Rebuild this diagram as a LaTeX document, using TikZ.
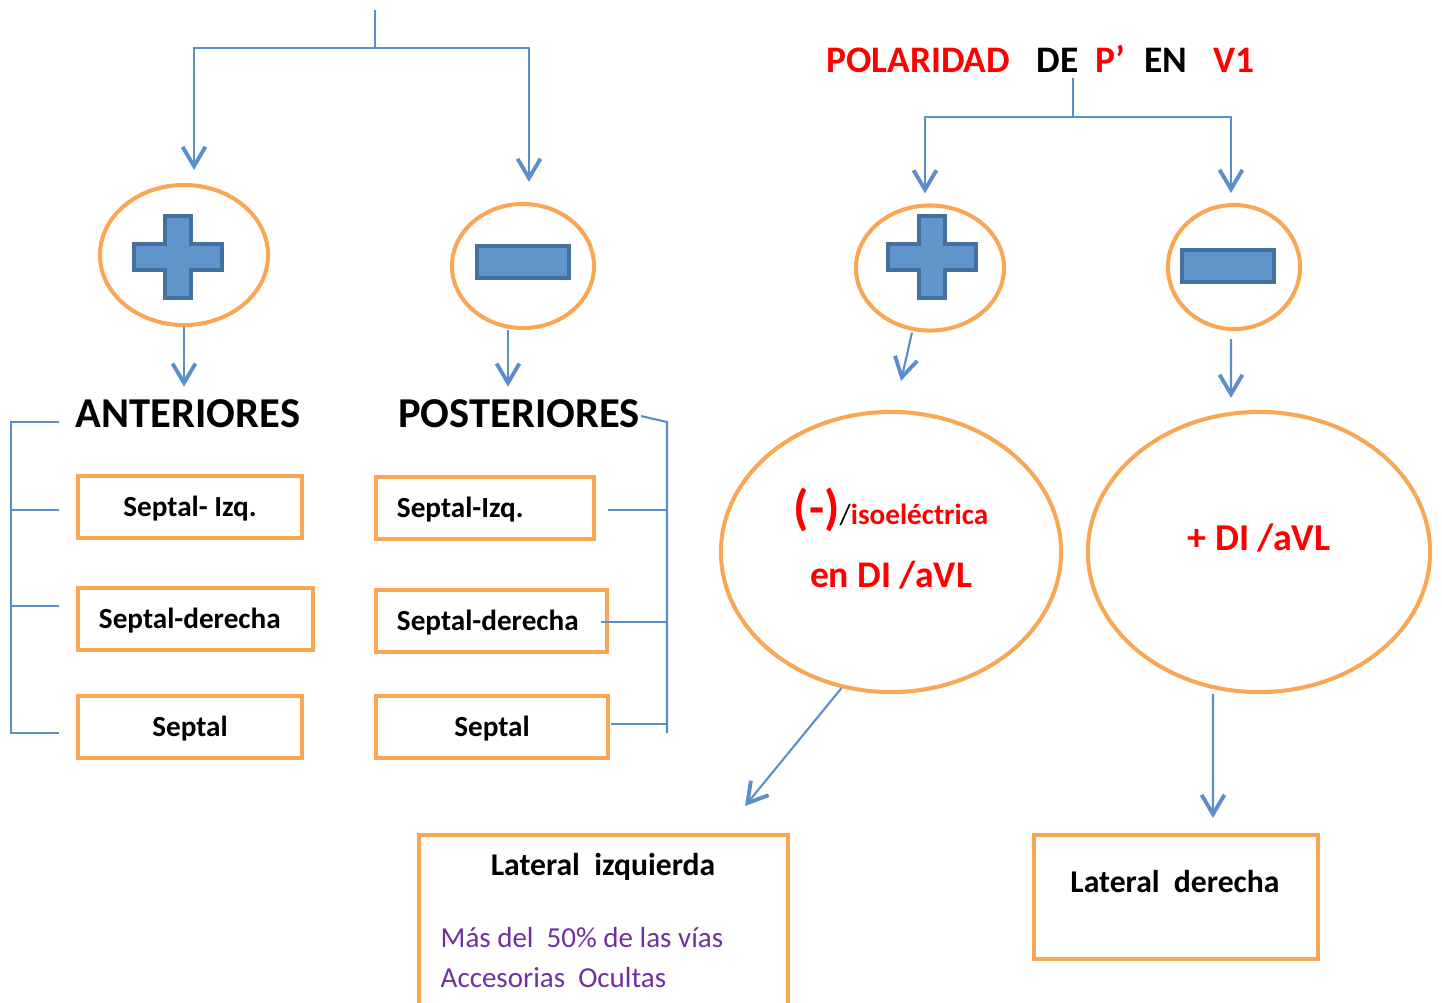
\documentclass[tikz,border=0pt]{standalone}
\usepackage{fontspec}
\setmainfont{Carlito}
\usetikzlibrary{shapes.geometric,arrows.meta,positioning}

\definecolor{arancio}{HTML}{F9A655}
\definecolor{blu}{HTML}{5B8FCB}
\definecolor{bluscuro}{HTML}{43709D}
\definecolor{blupieno}{HTML}{5F95CA}
\definecolor{viola}{HTML}{7030A0}
\definecolor{rosso}{HTML}{FF0000}

\tikzset{
  ovale/.style={ellipse, draw=arancio, line width=1.15pt, inner sep=0pt},
  casella/.style={rectangle, draw=arancio, line width=1.15pt, minimum height=0.62cm, inner sep=0pt, text height=0.19cm, text depth=0pt, font=\bfseries\fontsize{8.3}{10}\selectfont},
  ramo/.style={draw=blu, line width=0.6pt},
  freccia/.style={ramo, -{Straight Barb[length=5.5pt,width=6.5pt,line width=1.1pt]}},
  simbolo/.style={fill=blupieno, draw=bluscuro, line width=1.4pt},
  gruppo/.style={font=\bfseries\fontsize{12.1}{14}\selectfont},
  piu/.pic={\draw[simbolo] (-13,-41) -- (13,-41) -- (13,-13) -- (44,-13) -- (44,13) -- (13,13) -- (13,41) -- (-13,41) -- (-13,13) -- (-44,13) -- (-44,-13) -- (-13,-13) -- cycle;},
  meno/.pic={\draw[simbolo] (-46,-16) rectangle (46,16);},
}

\begin{document}
\begin{tikzpicture}[x=0.01cm, y=-0.01cm]
\clip (0,0) rectangle (1442,1002); % cornice

% Ovali con i segni (sinistra)
\node[ovale, minimum width=1.68cm, minimum height=1.40cm] (ovpiu) at (184,255) {};
\pic at (178,257) {piu};
\node[ovale, minimum width=1.42cm, minimum height=1.24cm] (ovmeno) at (523,266) {};
\pic at (523,262) {meno};

% Albero in alto
\coordinate (cima) at (375,10);
\coordinate (snodo) at (375,48);
\draw[ramo] (cima) -- (snodo);
\draw[freccia, shorten >=0.13cm] (snodo) -| ([xshift=0.1cm]ovpiu.north);
\draw[freccia, shorten >=0.2cm] (snodo) -| ([xshift=0.06cm]ovmeno.north);

% Gruppi
\node[gruppo, anchor=base] (anteriori) at (188,427) {ANTERIORES};
\node[gruppo, anchor=base] (posteriori) at (519,427) {POSTERIORES};
\draw[freccia] (ovpiu.south) -- (ovpiu.south |- anteriori.north);
\draw[freccia] ([xshift=-0.15cm]ovmeno.south) -- ([xshift=-0.15cm]ovmeno.south |- posteriori.north);

% Caselle
\node[casella, minimum width=2.24cm] (antsx) at (190,507) {Septal- Izq.};
\node[casella, text width=1.93cm, inner xsep=0.21cm, align=left] (antdx) at (195.5,619) {Septal-derecha};
\node[casella, minimum width=2.24cm] (antsep) at (190,727) {Septal};
\node[casella, text width=1.76cm, inner xsep=0.21cm, align=left] (postsx) at (485,508) {Septal-Izq.};
\node[casella, text width=1.89cm, inner xsep=0.21cm, align=left] (postdx) at (491.5,621) {Septal-derecha};
\node[casella, minimum width=2.32cm] (postsep) at (492,727) {Septal};

% Parentesi a sinistra
\draw[ramo] (59,422) -- (11,422) -- (11,733) -- (59,733);
\draw[ramo] (11,510) -- (59,510);
\draw[ramo] (11,606) -- (59,606);
% Parentesi a destra
\draw[ramo] (641,416) -- (667,422) -- (667,733);
\draw[ramo] (608,510) -- (667,510);
\draw[ramo] (601,622) -- (667,622);
\draw[ramo] (611,724) -- (667,724);

% Titolo a destra
\node[anchor=base, font=\bfseries\fontsize{10.65}{12}\selectfont] (titolo) at (1040.5,72) {\textcolor{rosso}{POLARIDAD}\hspace{0.7em}DE\hspace{0.45em}\textcolor{rosso}{P’}\hspace{0.5em}EN\hspace{0.7em}\textcolor{rosso}{V1}};
\coordinate (radice) at (1073,78);
\coordinate (snodo2) at (1073,117);
\draw[ramo] (radice) -- (snodo2);

% Ovali con i segni (destra)
\node[ovale, minimum width=1.48cm, minimum height=1.25cm] (ovpiu2) at (930,268) {};
\pic at (932,257) {piu};
\node[ovale, minimum width=1.32cm, minimum height=1.24cm] (ovmeno2) at (1234,267) {};
\pic at (1228,266) {meno};
\draw[freccia, shorten >=0.1cm] (snodo2) -| ([xshift=-0.05cm]ovpiu2.north);
\draw[freccia, shorten >=0.1cm] (snodo2) -| ([xshift=-0.03cm]ovmeno2.north);

% Ovali grandi
\node[ovale, minimum width=3.40cm, minimum height=2.80cm] (ovneg) at (891,552) {};
\node[ovale, minimum width=3.42cm, minimum height=2.80cm] (ovpos) at (1259,552) {};
\draw[freccia] ([xshift=-0.18cm]ovpiu2.south) -- ([xshift=0.1cm,yshift=0.29cm]ovneg.north);
\draw[freccia] ([xshift=-0.03cm,yshift=-0.08cm]ovmeno2.south) -- ([xshift=-0.28cm,yshift=0.12cm]ovpos.north);
\node[anchor=base, text=rosso, font=\bfseries\fontsize{8.3}{10}\selectfont] (neg1) at ([yshift=0.27cm]ovneg.center) {{\fontsize{14}{16}\selectfont(-)}\textcolor{black}{\mdseries /}isoeléctrica};
\node[anchor=base, text=rosso, font=\bfseries\fontsize{10.7}{12}\selectfont] (neg2) at ([yshift=-0.35cm]ovneg.center) {en DI /aVL};
\node[anchor=base, text=rosso, font=\bfseries\fontsize{10.8}{12}\selectfont] (pos1) at ([yshift=0.02cm]ovpos.center) {+ DI /aVL};

% Caselle in basso
\node[casella, minimum width=3.69cm, minimum height=1.75cm] (latsx) at (603.5,922.5) {};
\node[casella, minimum width=2.84cm, minimum height=1.24cm] (latdx) at (1176,897) {};
\draw[freccia] (ovneg.250) -- ([xshift=1.415cm,yshift=0.27cm]latsx.north);
\draw[freccia] ([xshift=-0.46cm]ovpos.south) -- ([xshift=0.37cm,yshift=0.15cm]latdx.north);
\node[anchor=base, font=\bfseries\fontsize{9}{11}\selectfont] (latsxtit) at (603,875) {Lateral~ izquierda};
\node[anchor=base west, inner sep=0pt, text=viola, font=\fontsize{8.25}{10}\selectfont] (latsxnota1) at (440,947) {Más del~ 50\% de las vías};
\node[anchor=base west, inner sep=0pt, text=viola, font=\fontsize{8.25}{10}\selectfont] (latsxnota2) at (440,987) {Accesorias~ Ocultas};
\node[anchor=base, font=\bfseries\fontsize{9}{11}\selectfont] (latdxtit) at (1175,892) {Lateral~ derecha};

\end{tikzpicture}
\end{document}
